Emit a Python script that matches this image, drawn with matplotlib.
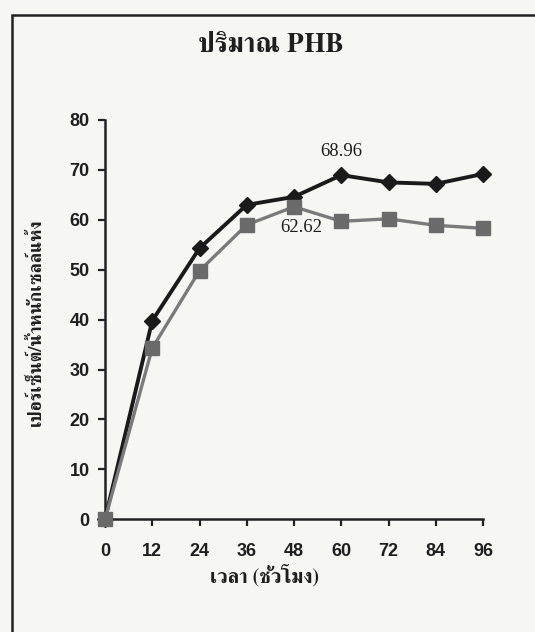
import matplotlib
matplotlib.use("Agg")
import matplotlib.pyplot as plt
from matplotlib import font_manager
from matplotlib.ft2font import FT2Font
from matplotlib.patches import Rectangle

# ---- data ----
hours = [0, 12, 24, 36, 48, 60, 72, 84, 96]
x_tick_labels = ["0", "12", "24", "36", "48", "60", "72", "84", "96"]
series_black = [0, 39.8, 54.3, 63.0, 64.6, 68.96, 67.5, 67.2, 69.2]
series_gray = [0, 34.3, 49.8, 59.0, 62.62, 59.7, 60.2, 58.9, 58.3]
y_ticks = [0, 10, 20, 30, 40, 50, 60, 70, 80]
title_text = "ปริมาณ PHB"
xlabel_text = "เวลา (ชั่วโมง)"
ylabel_text = "เปอร์เซ็นต์/น้ำหนักเซลล์แห้ง"

# find a font that has Thai glyphs (prefer serif ones)
thai_fams = []
for f in font_manager.fontManager.ttflist:
    try:
        cm = FT2Font(f.fname).get_charmap()
        if 0x0E1B in cm and f.name not in thai_fams:
            thai_fams.append(f.name)
    except Exception:
        pass
thai_fams.sort(key=lambda n: 0 if "Serif" in n else 1)

serif_fams = thai_fams + ["Liberation Serif", "DejaVu Serif"]

W, H = 535, 632
fig = plt.figure(figsize=(W / 100, H / 100), dpi=100)
bg = "#f6f6f3"
fig.patch.set_facecolor(bg)

# outer border (only left/top visible; extends beyond the image)
fig.patches.append(Rectangle((12 / W, -0.1), 1.2, (H - 15) / H + 0.1,
                             transform=fig.transFigure, fill=False,
                             edgecolor="#222222", linewidth=1.8))

ax = fig.add_axes([105 / W, (H - 519.3) / H, (483 - 105) / W, (519.3 - 120) / H])
ax.set_facecolor(bg)
ax.patch.set_alpha(0)

ax.plot(hours, series_black, color="#1a1a1a", linewidth=2.8, marker="D",
        markersize=8.5, markerfacecolor="#1a1a1a", markeredgecolor="#1a1a1a",
        zorder=3, clip_on=False)
ax.plot(hours, series_gray, color="#7a7a7a", linewidth=2.4, marker="s",
        markersize=9.5, markerfacecolor="#6a6a6a", markeredgecolor="#6a6a6a",
        zorder=4, clip_on=False)

ax.set_xlim(0, 96)
ax.set_ylim(0, 80)
ax.set_xticks(hours)
ax.set_xticklabels(x_tick_labels)
ax.set_yticks(y_ticks)

for s in ["top", "right"]:
    ax.spines[s].set_visible(False)
for s in ["left", "bottom"]:
    ax.spines[s].set_linewidth(1.8)
    ax.spines[s].set_color("#222222")

ax.tick_params(axis="both", direction="out", length=5, width=1.6,
               color="#222222", labelsize=13, pad=6)
for lab in ax.get_xticklabels() + ax.get_yticklabels():
    lab.set_fontfamily(["Liberation Sans", "DejaVu Sans"])
    lab.set_fontweight("bold")
    lab.set_color("#1e1e1e")
ax.tick_params(axis="x", pad=12)

# annotations
ax.annotate(f"{series_black[5]:.2f}", (hours[5], series_black[5]),
            xytext=(0, 11), textcoords="offset points", ha="center",
            va="bottom", fontsize=13.5, family=["Liberation Serif"], color="#1e1e1e")
ax.annotate(f"{series_gray[4]:.2f}", (hours[4], series_gray[4]),
            xytext=(5, -9), textcoords="offset points", ha="center",
            va="top", fontsize=13.5, family=["Liberation Serif"], color="#1e1e1e")

fig.text(271 / W, 1 - 45 / H, title_text, ha="center", va="center",
         fontsize=19.5, fontweight="bold", family=serif_fams, color="#1e1e1e")
fig.text(265 / W, 1 - 575 / H, xlabel_text, ha="center", va="center",
         fontsize=14.5, fontweight="bold", family=serif_fams, color="#1e1e1e")
fig.text(36 / W, 1 - 322 / H, ylabel_text, ha="center", va="center",
         rotation=90, fontsize=13, fontweight="bold", family=serif_fams,
         color="#1e1e1e")

fig.savefig("out.png", dpi=100, facecolor=bg)
